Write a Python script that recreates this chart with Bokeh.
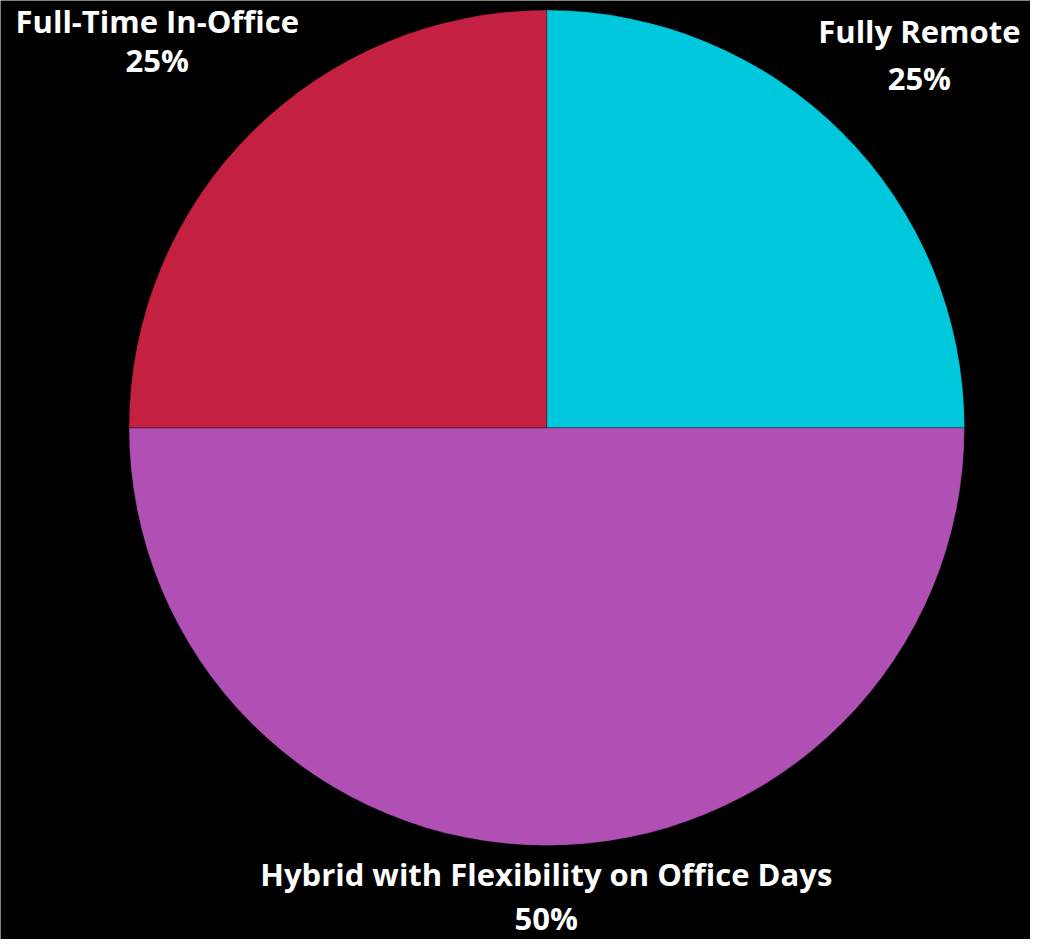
import math
from bokeh.plotting import figure
from bokeh.models import Range1d, ColumnDataSource
from bokeh.core.properties import value
from bokeh.embed import file_html
from bokeh.resources import INLINE

# data (clockwise from 12 o'clock)
categories = ["Fully Remote", "Hybrid with Flexibility on Office Days", "Full-Time In-Office"]
shares = [25, 50, 25]
colors = ["#00C8DC", "#B04FB4", "#C42142"]

# cumulative angles, clockwise starting at 12 o'clock
total = sum(shares)
starts, ends = [], []
a = math.pi / 2
for s in shares:
    starts.append(a)
    a -= s / total * 2 * math.pi
    ends.append(a)

W, H = 1030, 939
p = figure(width=W, height=H, output_backend="svg", toolbar_location=None,
           x_range=Range1d(0, 1038), y_range=Range1d(-947, 0),
           min_border=0, background_fill_color="black", border_fill_color="black",
           outline_line_color=None)
p.axis.visible = False
p.grid.visible = False

cx, cy, r = 550.5, -431, 421
src = ColumnDataSource(dict(start=starts, end=ends, color=colors, cat=categories))
p.wedge(x=cx, y=cy, radius=r, start_angle="start", end_angle="end", direction="clock",
        fill_color="color", line_color="black", line_alpha=0.25, line_width=1, source=src)

# labels placed by slice: (x, title centre, pct centre)
label_pos = {
    "Fully Remote": (926, -31, -78),
    "Hybrid with Flexibility on Office Days": (550, -881, -925),
    "Full-Time In-Office": (158, -21, -60),
}
tx, ty, px_, py_, tt, pt = [], [], [], [], [], []
for c, s in zip(categories, shares):
    x, y1, y2 = label_pos[c]
    tx.append(x); ty.append(y1); tt.append(c)
    px_.append(x); py_.append(y2); pt.append(f"{s}%")

for xs, ys, txt in ((tx, ty, tt), (px_, py_, pt)):
    p.text(x=xs, y=ys, text=txt, text_color="white", text_font=value("Open Sans"),
           text_font_style="bold", text_font_size="31px", text_align="center",
           text_baseline="middle")

open("out.html", "w").write(file_html(p, INLINE))
